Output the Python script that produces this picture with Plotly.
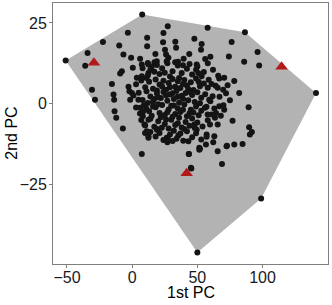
import plotly.graph_objects as go

# Black points (1st PC, 2nd PC)
pc1 = [
    -51, 7.7, 86.5, 141, 98.9, 50,
    -3.3, -22.4, -34.2, -36, -9.9, 11.5, 11.5, -6.7, -0.8, 0.5, 6.1, 12, 17.8, 24, 23.7,
    -30.8, -28.5, -15.5, -14.3, -13.8, -13.5, -12.2, -7.1, -7.9, -9.2, -2.8, -2.1, 3.6, 4.8,
    6.1, 8.2, 9.4, 11.2, 12.5,
    57.9, 27.3, 47.7, 53.3, 52.8, 76.3, 96.2, 85.9, 97.4, 74.2, 33.1, 33.7, 43.8, 39.5, 35.2,
    49.5, 49, 58.7, 66.8, 70.6, 78.3, 73.2, 69.8, 82.1, 65.6, 89.3, 77, 89.7, 91.8, 90.3,
    84.7, 78.3, 72.7, 57.1, 63, 56.6, 51.5, 65.6, 64.3, 66.8, 57.9, 59.1, 61.7,
    43.4, 51.5, 65.6, 68.9, 45.4, 7.4,
    27.3, 35.4, 39.2, 43.1, 43.6, 52, 57.1, 62.2, 72.4, 45.1, 70.6, 63.5, 59.7, 49.5, 47.7, 55.8,
    25.2, 26, 7.4, 12.5, 15, 17.1, 18.9, 12.5, 7.4, -0.2, -1.5,
    26.5, 27.8, 53.3, 60.9, 50.7,
    8.6, 12.5, 9.9, 12.5, 18.9, 26.5, 22.7,
    # core
    8, 14, 19, 23, 27, 31, 35, 38, 42, 46, 50, 55, 12, 21, 29, 33, 44, 17, 25, 39,
    3, 7, 10, 13, 16, 18, 21, 24, 26, 28, 31, 33, 35, 37, 40, 42, 45, 47, 49, 52, 55, 58,
    11, 19, 29, 36, 43, 51, 23, 39,
    1, 5, 8, 11, 14, 16, 19, 22, 24, 27, 29, 32, 34, 36, 38, 41, 43, 46, 48, 50, 53, 56, 60,
    12, 20, 26, 31, 39, 44, 52, 17, 35,
    3, 6, 9, 13, 15, 18, 21, 23, 25, 28, 30, 33, 35, 37, 40, 42, 45, 47, 49, 53, 57, 61,
    11, 20, 27, 32, 39, 44, 51, 16,
    7, 10, 14, 17, 20, 22, 25, 28, 30, 33, 36, 38, 41, 44, 46, 50, 54, 58, 19, 31, 40, 48, 26, 35,
    14, 18, 21, 24, 29, 32, 34, 37, 42, 46, 49, 53, 27, 31,
    64, 67, 70, 63, 68, 72, 75, 66, 62, 58, 60, 56,
]
pc2 = [
    13.4, 27.6, 22.1, 3.3, -29.4, -46.2,
    22.0, 19.1, 15.7, 11.7, 18.0, 20.4, 17.8, 15.2, 14.2, 11.1, 13.9, 12.6, 15.4, 21.9, 19,
    4.3, 1.2, 6.1, 2.8, 1.2, -2.4, -4.4, -7.7, 10, 9.3, 5.2, 3.8, 8, 1.2,
    -1.3, -3.9, -6.5, -8.6, -10.1,
    23.5, 24, 20.1, 18.5, 16.7, 19.1, 16, 13, 11.8, 14.6, 19.2, 17.3, 15.4, 13.9, 13,
    12.1, 10.5, 7.4, 7.8, 8, 7, 5.7, 4.3, 3.3, 4.9, -1.1, -5.3, -7.3, -8.8, -9.6,
    -12.5, -12.7, -13.1, -9.6, -10.1, -12.7, -13.7, -6.5, -2.9, -0.8, -3.4, 1.2, 2.3,
    -15.6, -14.3, -14.8, -18.7, -20.1, -15.6,
    -10.6, -9.9, -11.5, -11.7, -15.6, -14, -10.3, -12, -13.2, -19.9, -1.9, -4.4, -6.5, -8.1, -6.5, -1.3,
    16.7, 15.2, 12.1, 12.1, 11.4, 12.8, 13.1, 9.5, 8.5, 3.3, 1.2,
    13.1, 14.2, 8.5, 6.1, 9.5,
    -2.4, -5, -9.1, -10.6, -8.1, -10.6, -7.5,
    # core
    11, 10.5, 12, 11, 12.5, 10, 11.8, 9.5, 10.8, 9, 11.5, 9.8, 8.7, 9.2, 8.4, 12.8, 12.3, 9.9, 9.6, 11.9,
    6, 7.2, 5.1, 6.8, 4.6, 7.5, 5.9, 7.1, 4.3, 6.4, 7.6, 5.2, 6.9, 4.8, 7.3, 5.6, 6.6, 4.2, 7.8, 5.4, 6.2, 4.9,
    7.9, 4.1, 5.1, 7.9, 4.5, 6.8, 5.3, 6.1,
    2.5, 3.4, 1.1, 3.8, 2.2, 0.6, 3.1, 1.7, 3.6, 0.9, 2.8, 1.4, 3.9, 0.3, 2.4, 3.3, 1.0, 2.7, 0.5, 3.5, 1.8, 2.9, 0.7,
    0.2, 2.0, 2.6, 3.2, 1.5, 3.7, 0.1, 1.4, 2.1,
    -1.2, -3.1, -0.5, -2.4, -3.8, -1.1, -2.9, -0.4, -3.5, -1.8, -0.7, -3.2, -1.5, -2.6, -0.3, -3.9, -1.9, -2.8, -0.9, -2.2, -1.0, -3.4,
    -1.6, -0.2, -2.7, -0.6, -1.9, -3.0, -3.6, -0.9,
    -5.1, -6.8, -4.7, -7.2, -5.5, -4.2, -6.3, -7.7, -5.0, -6.6, -4.4, -7.4, -5.7, -6.9, -4.6, -5.9, -7.1, -5.2, -7.9, -4.1, -7.9, -7.6, -4.9, -6.1,
    -8.8, -10.2, -9.1, -11.3, -9.6, -8.4, -10.9, -9.3, -8.6, -10.4, -9.2, -11.1, -12, -11.6,
    5.5, 2.1, -0.5, -1.5, -3.8, 3.2, 1.0, 8.6, 10.5, 12.5, 14.5, 13.8,
]

# Red triangles
tri_pc1 = [-29.3, 114.6, 41.8]
tri_pc2 = [12.7, 11.4, -21.6]

x_ticks = [-50, 0, 50, 100]
y_ticks = [-25, 0, 25]
x_title = "1st PC"
y_title = "2nd PC"


def convex_hull(pts):
    pts = sorted(set(pts))
    def cross(o, a, b):
        return (a[0] - o[0]) * (b[1] - o[1]) - (a[1] - o[1]) * (b[0] - o[0])
    lower, upper = [], []
    for p in pts:
        while len(lower) >= 2 and cross(lower[-2], lower[-1], p) <= 0:
            lower.pop()
        lower.append(p)
    for p in reversed(pts):
        while len(upper) >= 2 and cross(upper[-2], upper[-1], p) <= 0:
            upper.pop()
        upper.append(p)
    return lower[:-1] + upper[:-1]


hull = convex_hull(list(zip(pc1 + tri_pc1, pc2 + tri_pc2)))
hx = [p[0] for p in hull] + [hull[0][0]]
hy = [p[1] for p in hull] + [hull[0][1]]

fig = go.Figure()
fig.add_trace(go.Scatter(x=hx, y=hy, mode="lines", fill="toself",
                         fillcolor="#b3b3b3", line=dict(width=0, color="#b3b3b3"),
                         hoverinfo="skip", showlegend=False))
fig.add_trace(go.Scatter(x=pc1, y=pc2, mode="markers",
                         marker=dict(size=6, color="#141414", line=dict(width=0)),
                         showlegend=False))
fig.add_trace(go.Scatter(x=tri_pc1, y=tri_pc2, mode="markers",
                         marker=dict(symbol="triangle-up", size=11, color="#b31b1b",
                                     line=dict(width=0)),
                         showlegend=False))

axis_common = dict(showgrid=False, zeroline=False, showline=True, mirror=True,
                   linecolor="#7f7f7f", linewidth=1, ticks="outside", ticklen=3,
                   tickcolor="#7f7f7f", automargin=False,
                   tickfont=dict(family="Liberation Sans", size=16, color="#1a1a1a"))

fig.update_xaxes(range=[-60.7, 150.2], tickvals=x_ticks, ticklabelstandoff=-4, **axis_common)
fig.update_yaxes(range=[-49.75, 31.2], tickvals=y_ticks, ticklabelstandoff=-1, **axis_common)

title_font = dict(family="Liberation Sans", size=16, color="#000000")
fig.add_annotation(text=x_title, xref="paper", yref="paper", x=0.5, y=-0.111,
                   yanchor="middle", xanchor="center", showarrow=False, font=title_font)
fig.add_annotation(text=y_title, xref="paper", yref="paper", x=-0.152, y=0.5,
                   xanchor="center", yanchor="middle", textangle=-90,
                   showarrow=False, font=title_font)

fig.update_layout(width=332, height=305, margin=dict(l=53, r=4, t=3, b=41),
                  plot_bgcolor="white", paper_bgcolor="white",
                  font=dict(family="Liberation Sans"))

fig.write_html("out.html", config={"displayModeBar": False},
               post_script="document.body.style.margin='0';document.body.style.padding='0';")
